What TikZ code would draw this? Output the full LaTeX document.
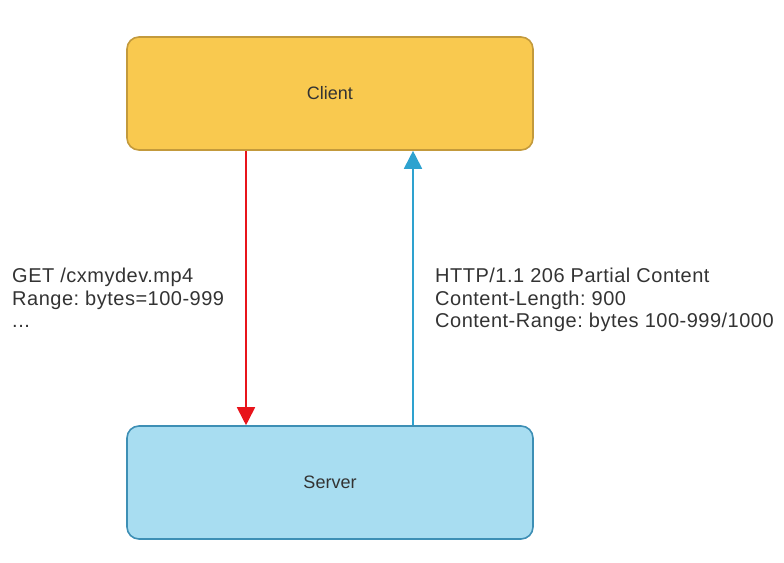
\documentclass[tikz,border=0pt]{standalone}
\usepackage{fontspec}
\setmainfont{Liberation Sans}
\frenchspacing
\usetikzlibrary{arrows.meta,positioning}
\definecolor{clientfill}{HTML}{F9C94F}
\definecolor{clientdraw}{HTML}{C39A3C}
\definecolor{serverfill}{HTML}{A8DDF1}
\definecolor{serverdraw}{HTML}{3D8FB5}
\definecolor{reqred}{HTML}{E8141B}
\definecolor{respblue}{HTML}{2EA2CF}
\definecolor{msgtext}{HTML}{333333}
\tikzset{
  box/.style={rectangle, rounded corners=12pt, line width=1.6pt,
    minimum width=406pt, minimum height=113pt, text=msgtext,
    font=\fontsize{18}{21}\selectfont},
  msg/.style={align=left, inner sep=0pt, text=msgtext,
    font=\fontsize{20}{22.5}\selectfont\addfontfeature{LetterSpace=2.5}},
  flow/.style={line width=1.8pt, -{Triangle[width=18pt,length=18pt]}}
}
\begin{document}
\begin{tikzpicture}[x=1pt,y=1pt]
  \useasboundingbox (0,0) rectangle (784,-562);
  \node[box, fill=clientfill, draw=clientdraw] (client) at (330,-93.5) {Client};
  \node[box, fill=serverfill, draw=serverdraw] (server) at (330,-482.5) {Server};

  \node[msg, anchor=north west] (request) at (12,-268) {GET /cxmydev.mp4\\Range: bytes=100-999\\...};
  \node[msg, anchor=north west] (response) at (435,-268) {HTTP/1.1 206 Partial Content\\Content-Length: 900\\Content-Range: bytes 100-999/1000};

  \draw[flow, reqred] ([xshift=-84pt]client.south) -- ([xshift=-84pt]server.north);
  \draw[flow, respblue] ([xshift=83pt]server.north) -- ([xshift=83pt]client.south);
\end{tikzpicture}
\end{document}
